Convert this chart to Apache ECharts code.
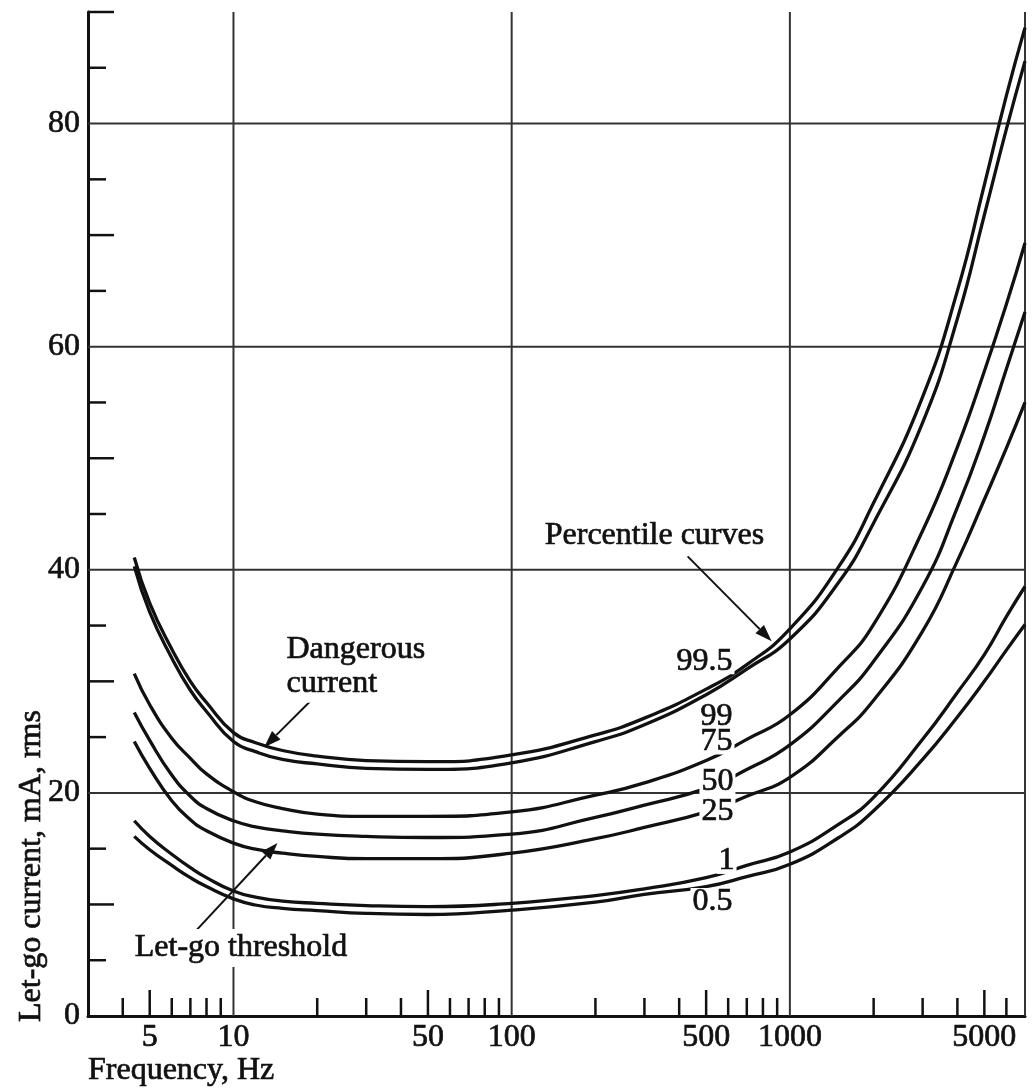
<!DOCTYPE html>
<html>
<head>
<meta charset="utf-8">
<script src="https://cdn.jsdelivr.net/npm/echarts@6/dist/echarts.min.js"></script>
<style>
html,body{margin:0;padding:0;background:#fff;}
#chart{width:1032px;height:1088px;}
</style>
</head>
<body>
<div id="chart"></div>
<script>
// ---------- data ----------
const FREQ = [4.4, 5, 6, 7, 8, 10, 12, 15, 20, 30, 50, 100, 200, 300, 500, 700, 1000, 1500, 2000, 3000, 4000, 5000, 6000, 7000];
const P995 = [41.1, 37.0, 32.9, 30.0, 28.1, 25.4, 24.5, 23.8, 23.3, 22.9, 22.8, 23.4, 25.2, 26.7, 29.3, 31.5, 34.7, 40.3, 46.0, 55.5, 65.0, 74.5, 82.5, 88.6];
const P99  = [40.3, 36.2, 32.1, 29.2, 27.3, 24.6, 23.7, 23.0, 22.6, 22.2, 22.1, 22.7, 24.6, 26.1, 28.8, 31.1, 33.8, 38.9, 44.2, 53.2, 62.5, 71.8, 79.5, 85.6];
const P75  = [30.7, 27.9, 24.9, 23.1, 21.7, 20.1, 19.2, 18.6, 18.1, 17.9, 17.9, 18.3, 19.8, 20.9, 22.9, 24.8, 27.0, 31.3, 35.1, 43.5, 51.0, 57.8, 63.8, 69.3];
const P50  = [27.2, 24.7, 21.6, 19.7, 18.6, 17.5, 16.95, 16.6, 16.3, 16.1, 16.0, 16.3, 17.8, 18.9, 20.4, 22.1, 24.3, 28.3, 31.8, 38.5, 45.6, 52.0, 58.0, 63.1];
const P25  = [24.6, 22.2, 19.3, 17.6, 16.6, 15.5, 14.95, 14.6, 14.3, 14.1, 14.1, 14.6, 15.9, 16.9, 18.3, 19.7, 21.4, 25.1, 28.3, 34.5, 40.8, 46.3, 50.9, 55.0];
const P1   = [17.5, 16.1, 14.5, 13.3, 12.4, 11.2, 10.65, 10.3, 10.1, 9.9, 9.8, 10.1, 10.8, 11.4, 12.4, 13.5, 14.7, 17.2, 19.6, 24.8, 29.0, 32.4, 35.8, 38.5];
const P05  = [16.1, 14.9, 13.5, 12.4, 11.6, 10.5, 9.95, 9.65, 9.45, 9.2, 9.1, 9.5, 10.2, 10.9, 11.6, 12.5, 13.6, 16.0, 18.4, 23.0, 26.8, 30.0, 32.8, 35.1];

const CURVES = [P995, P99, P75, P50, P25, P1, P05];
const CURVE_NAMES = ['99.5', '99', '75', '50', '25', '1', '0.5'];
const CURVE_LABEL_F = [493, 545, 545, 549, 549, 592, 527];
const CURVE_LABEL_V = [31.8, 26.8, 24.6, 21.0, 18.3, 13.9, 10.3];

const X_MIN = 3, X_MAX = 7000, Y_MIN = 0, Y_MAX = 90;
const X_TICKS_SHORT = [4, 6, 7, 8, 9, 20, 30, 40, 60, 70, 80, 90, 200, 300, 400, 600, 700, 800, 900, 2000, 3000, 4000, 6000];
const X_TICKS_LONG = [5, 50, 500, 5000];
const X_LABELS = [5, 10, 50, 100, 500, 1000, 5000];
const X_GRID = [10, 100, 1000, 7000];
const Y_TICKS_SHORT = [5, 15, 25, 35, 45, 55, 65, 75, 85];
const Y_TICKS_LONG = [10, 30, 50, 70, 90];
const Y_GRID = [20, 40, 60, 80];

const NOTE_TEXT = ['Percentile curves', 'Dangerous\ncurrent', 'Let-go threshold'];
const NOTE_F = [326, 15.0, 10.64];
const NOTE_V = [43.1, 31.3, 6.1];
const ARROW_FROM = [[429, 41.2], [19.2, 28.4], [7.24, 7.5]];
const ARROW_TO = [[860, 33.6], [12.9, 24.1], [14.4, 15.5]];

// ---------- styling ----------
const INK = '#111';
const GRID_INK = '#333';
const FAMILY = '"Liberation Serif", "DejaVu Serif", serif';
const FS = 32;
const FONT = FS + 'px ' + FAMILY;
const TEXT_STROKE = 0.7;

const chart = echarts.init(document.getElementById('chart'), null, {renderer: 'canvas'});

function xTicks(values, len) {
  return {
    type: 'custom', silent: true, z: 2,
    data: values.map(v => [v, Y_MIN]),
    renderItem: (params, api) => {
      const p = api.coord([api.value(0), Y_MIN]);
      return {type: 'line', shape: {x1: p[0], y1: p[1], x2: p[0], y2: p[1] - len},
        style: {stroke: INK, lineWidth: 2.5}};
    }
  };
}
function yTicks(values, len) {
  return {
    type: 'custom', silent: true, z: 2,
    data: values.map(v => [X_MIN, v]),
    renderItem: (params, api) => {
      const p = api.coord([X_MIN, api.value(1)]);
      return {type: 'line', shape: {x1: p[0], y1: p[1], x2: p[0] + len, y2: p[1]},
        style: {stroke: INK, lineWidth: 2.5}};
    }
  };
}
function textStyle(extra) {
  return Object.assign({fill: INK, font: FONT, stroke: INK, lineWidth: TEXT_STROKE}, extra);
}

const series = [];
// grid lines
series.push({
  type: 'custom', silent: true, z: 1,
  data: X_GRID.map(v => [v, Y_MIN]),
  renderItem: (params, api) => {
    const a = api.coord([api.value(0), Y_MIN]);
    const b = api.coord([api.value(0), Y_MAX]);
    return {type: 'line', shape: {x1: a[0], y1: a[1], x2: b[0], y2: b[1]},
      style: {stroke: GRID_INK, lineWidth: 2}};
  }
});
series.push({
  type: 'custom', silent: true, z: 1,
  data: Y_GRID.map(v => [X_MIN, v]),
  renderItem: (params, api) => {
    const a = api.coord([X_MIN, api.value(1)]);
    const b = api.coord([X_MAX, api.value(1)]);
    return {type: 'line', shape: {x1: a[0], y1: a[1], x2: b[0], y2: b[1]},
      style: {stroke: GRID_INK, lineWidth: 2}};
  }
});
series.push(xTicks(X_TICKS_SHORT, 18));
series.push(xTicks(X_TICKS_LONG, 26));
series.push(yTicks(Y_TICKS_SHORT, 18));
series.push(yTicks(Y_TICKS_LONG, 26));
// x labels
series.push({
  type: 'custom', silent: true, z: 2,
  data: X_LABELS.map(v => [v, Y_MIN]),
  renderItem: (params, api) => {
    const p = api.coord([api.value(0), Y_MIN]);
    return {type: 'text', x: p[0], y: p[1] + 22,
      style: textStyle({text: String(api.value(0)), align: 'center', verticalAlign: 'middle'})};
  }
});
// curves
CURVES.forEach((vals, k) => {
  series.push({
    type: 'line', name: CURVE_NAMES[k], z: 3,
    data: FREQ.map((f, i) => [f, vals[i]]),
    smooth: 0.5, showSymbol: false, silent: true,
    lineStyle: {color: INK, width: 3.3}
  });
});
// arrows
series.push({
  type: 'custom', silent: true, z: 4,
  encode: {x: [0, 2], y: [1, 3]},
  data: ARROW_FROM.map((a, i) => [a[0], a[1], ARROW_TO[i][0], ARROW_TO[i][1]]),
  renderItem: (params, api) => {
    const a = api.coord([api.value(0), api.value(1)]);
    const b = api.coord([api.value(2), api.value(3)]);
    const dx = b[0] - a[0], dy = b[1] - a[1];
    const L = Math.hypot(dx, dy), ux = dx / L, uy = dy / L;
    const hl = 17, hw = 6;
    const bx = b[0] - ux * hl, by = b[1] - uy * hl;
    return {type: 'group', children: [
      {type: 'line', shape: {x1: a[0], y1: a[1], x2: bx, y2: by}, style: {stroke: INK, lineWidth: 2}},
      {type: 'polygon', shape: {points: [[b[0], b[1]], [bx - uy * hw, by + ux * hw], [bx + uy * hw, by - ux * hw]]},
        style: {fill: INK}}
    ]};
  }
});
// curve labels
series.push({
  type: 'custom', silent: true, z: 6,
  data: CURVE_LABEL_F.map((f, i) => [f, CURVE_LABEL_V[i], i]),
  renderItem: (params, api) => {
    const p = api.coord([api.value(0), api.value(1)]);
    return {type: 'text', x: p[0], y: p[1],
      style: textStyle({text: CURVE_NAMES[api.value(2)], align: 'center', verticalAlign: 'middle',
        backgroundColor: '#fff', padding: [0, 2], lineHeight: 26})};
  }
});
// notes
series.push({
  type: 'custom', silent: true, z: 6,
  data: NOTE_F.map((f, i) => [f, NOTE_V[i], i]),
  renderItem: (params, api) => {
    const i = api.value(2);
    const p = api.coord([api.value(0), api.value(1)]);
    return {type: 'text', x: p[0], y: p[1],
      style: textStyle({text: NOTE_TEXT[i], align: i === 1 ? 'left' : 'center', verticalAlign: 'middle',
        backgroundColor: '#fff', padding: [2, 4], lineHeight: 34})};
  }
});

const option = {
  animation: false,
  backgroundColor: '#fff',
  grid: {left: 88, right: 7, top: 12, bottom: 72, containLabel: false},
  xAxis: {
    type: 'log', logBase: 10, min: X_MIN, max: X_MAX,
    axisLine: {show: true, lineStyle: {color: INK, width: 3}},
    axisTick: {show: false}, axisLabel: {show: false},
    splitLine: {show: false}, minorTick: {show: false}, minorSplitLine: {show: false}
  },
  yAxis: {
    type: 'value', min: Y_MIN, max: Y_MAX, interval: 10,
    axisLine: {show: true, lineStyle: {color: INK, width: 3}},
    axisTick: {show: false}, splitLine: {show: false},
    axisLabel: {
      margin: 8, color: INK, fontSize: FS, fontFamily: FAMILY,
      textBorderColor: INK, textBorderWidth: TEXT_STROKE,
      formatter: v => (v % 20 === 0 ? String(v) : '')
    }
  },
  graphic: [
    {type: 'text', x: 88, y: 1071, z: 10,
      style: textStyle({text: 'Frequency, Hz', align: 'left', verticalAlign: 'middle'})},
    {type: 'text', x: 32, y: 866, rotation: Math.PI / 2, z: 10,
      style: textStyle({text: 'Let-go current, mA, rms', align: 'center', verticalAlign: 'middle'})}
  ],
  series: series
};
chart.setOption(option);
</script>
</body>
</html>
